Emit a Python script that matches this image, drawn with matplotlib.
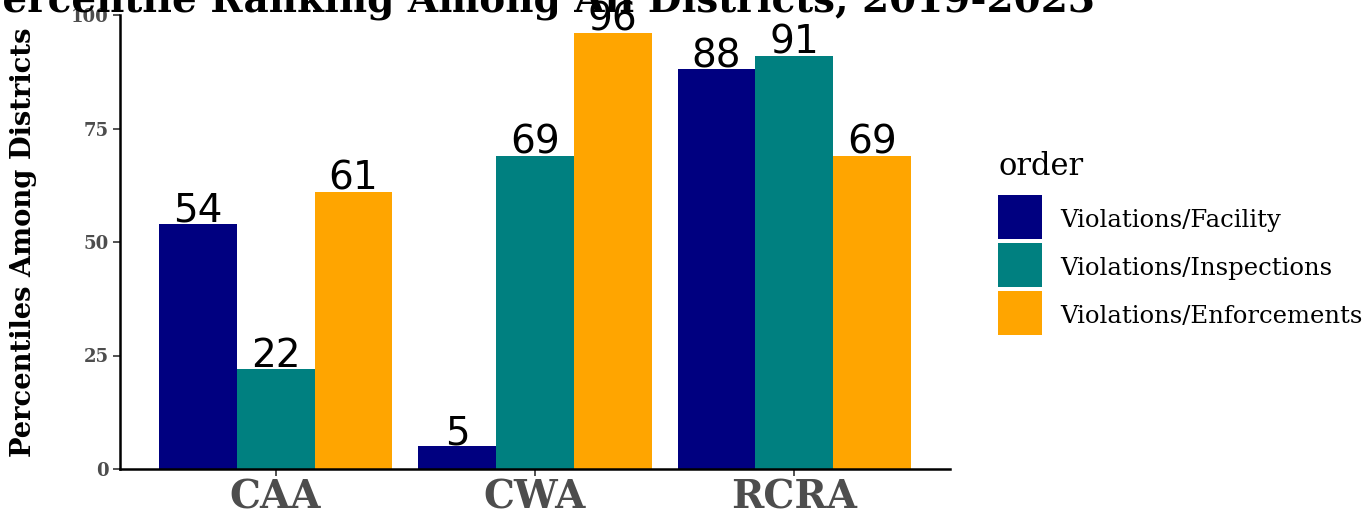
import matplotlib
matplotlib.use("Agg")
import matplotlib.pyplot as plt
import numpy as np
from matplotlib.patches import Rectangle

categories = ["CAA", "CWA", "RCRA"]
series_names = ["Violations/Facility", "Violations/Inspections", "Violations/Enforcements"]
facility = [54, 5, 88]
inspections = [22, 69, 91]
enforcements = [61, 96, 69]
colors = ["#000080", "#008080", "#FFA500"]
title = "Percentile Ranking Among All Districts, 2019-2023"
ylabel = "Percentiles Among Districts"
legend_title = "order"
yticks = [0, 25, 50, 75, 100]

W, H = 1372, 514
fig = plt.figure(figsize=(W / 100, H / 100), dpi=100)
ax = fig.add_axes([120 / W, 1 - 469 / H, (950 - 120) / W, (469 - 15) / H])

serif = "DejaVu Serif"
x = np.arange(1, len(categories) + 1)
bw = 0.3
values = [facility, inspections, enforcements]
for i, (vals, col) in enumerate(zip(values, colors)):
    pos = x + (i - 1) * bw
    ax.bar(pos, vals, width=bw, color=col, linewidth=0)
    for p, v in zip(pos, vals):
        ax.text(p, v + 0.5, str(v), ha="center", va="baseline", fontsize=28,
                family="DejaVu Sans", color="black", clip_on=False)

ax.set_xlim(0.4, 3.6)
ax.set_ylim(0, 100)
ax.set_xticks(x)
ax.set_xticklabels(categories, fontsize=28, fontweight="bold", family=serif, color="#4d4d4d")
ax.set_yticks(yticks)
ax.set_yticklabels([str(t) for t in yticks], fontsize=13, fontweight="bold", family=serif, color="#4d4d4d")
ax.tick_params(axis="both", length=5, width=1.2, color="#333333", pad=3)
ax.tick_params(axis="x", pad=2)
for s in ["top", "right"]:
    ax.spines[s].set_visible(False)
for s in ["left", "bottom"]:
    ax.spines[s].set_linewidth(1.8)
    ax.spines[s].set_color("black")
ax.set_ylabel(ylabel, fontsize=19.7, fontweight="bold", family=serif)
ax.yaxis.set_label_coords(-(120 - 37) / (950 - 120), 0.5)

fig.text(534 / W, 1 - 11 / H, title, ha="center", va="baseline", fontsize=28,
         fontweight="bold", family=serif)

# legend (ggplot-style: square keys, separate title)
fig.text(998 / W, 1 - 175 / H, legend_title, ha="left", va="baseline", fontsize=22, family=serif)
key_x, key_top, key_size, key_gap = 998, 195, 44, 4
for k, (name, col) in enumerate(zip(series_names, colors)):
    top = key_top + k * (key_size + key_gap)
    fig.add_artist(Rectangle((key_x / W, 1 - (top + key_size) / H), key_size / W, key_size / H,
                             transform=fig.transFigure, facecolor=col, edgecolor="none"))
    fig.text(1060 / W, 1 - (top + 32) / H, name, ha="left", va="baseline",
             fontsize=17.5, family=serif)

fig.savefig("out.png", dpi=100)
